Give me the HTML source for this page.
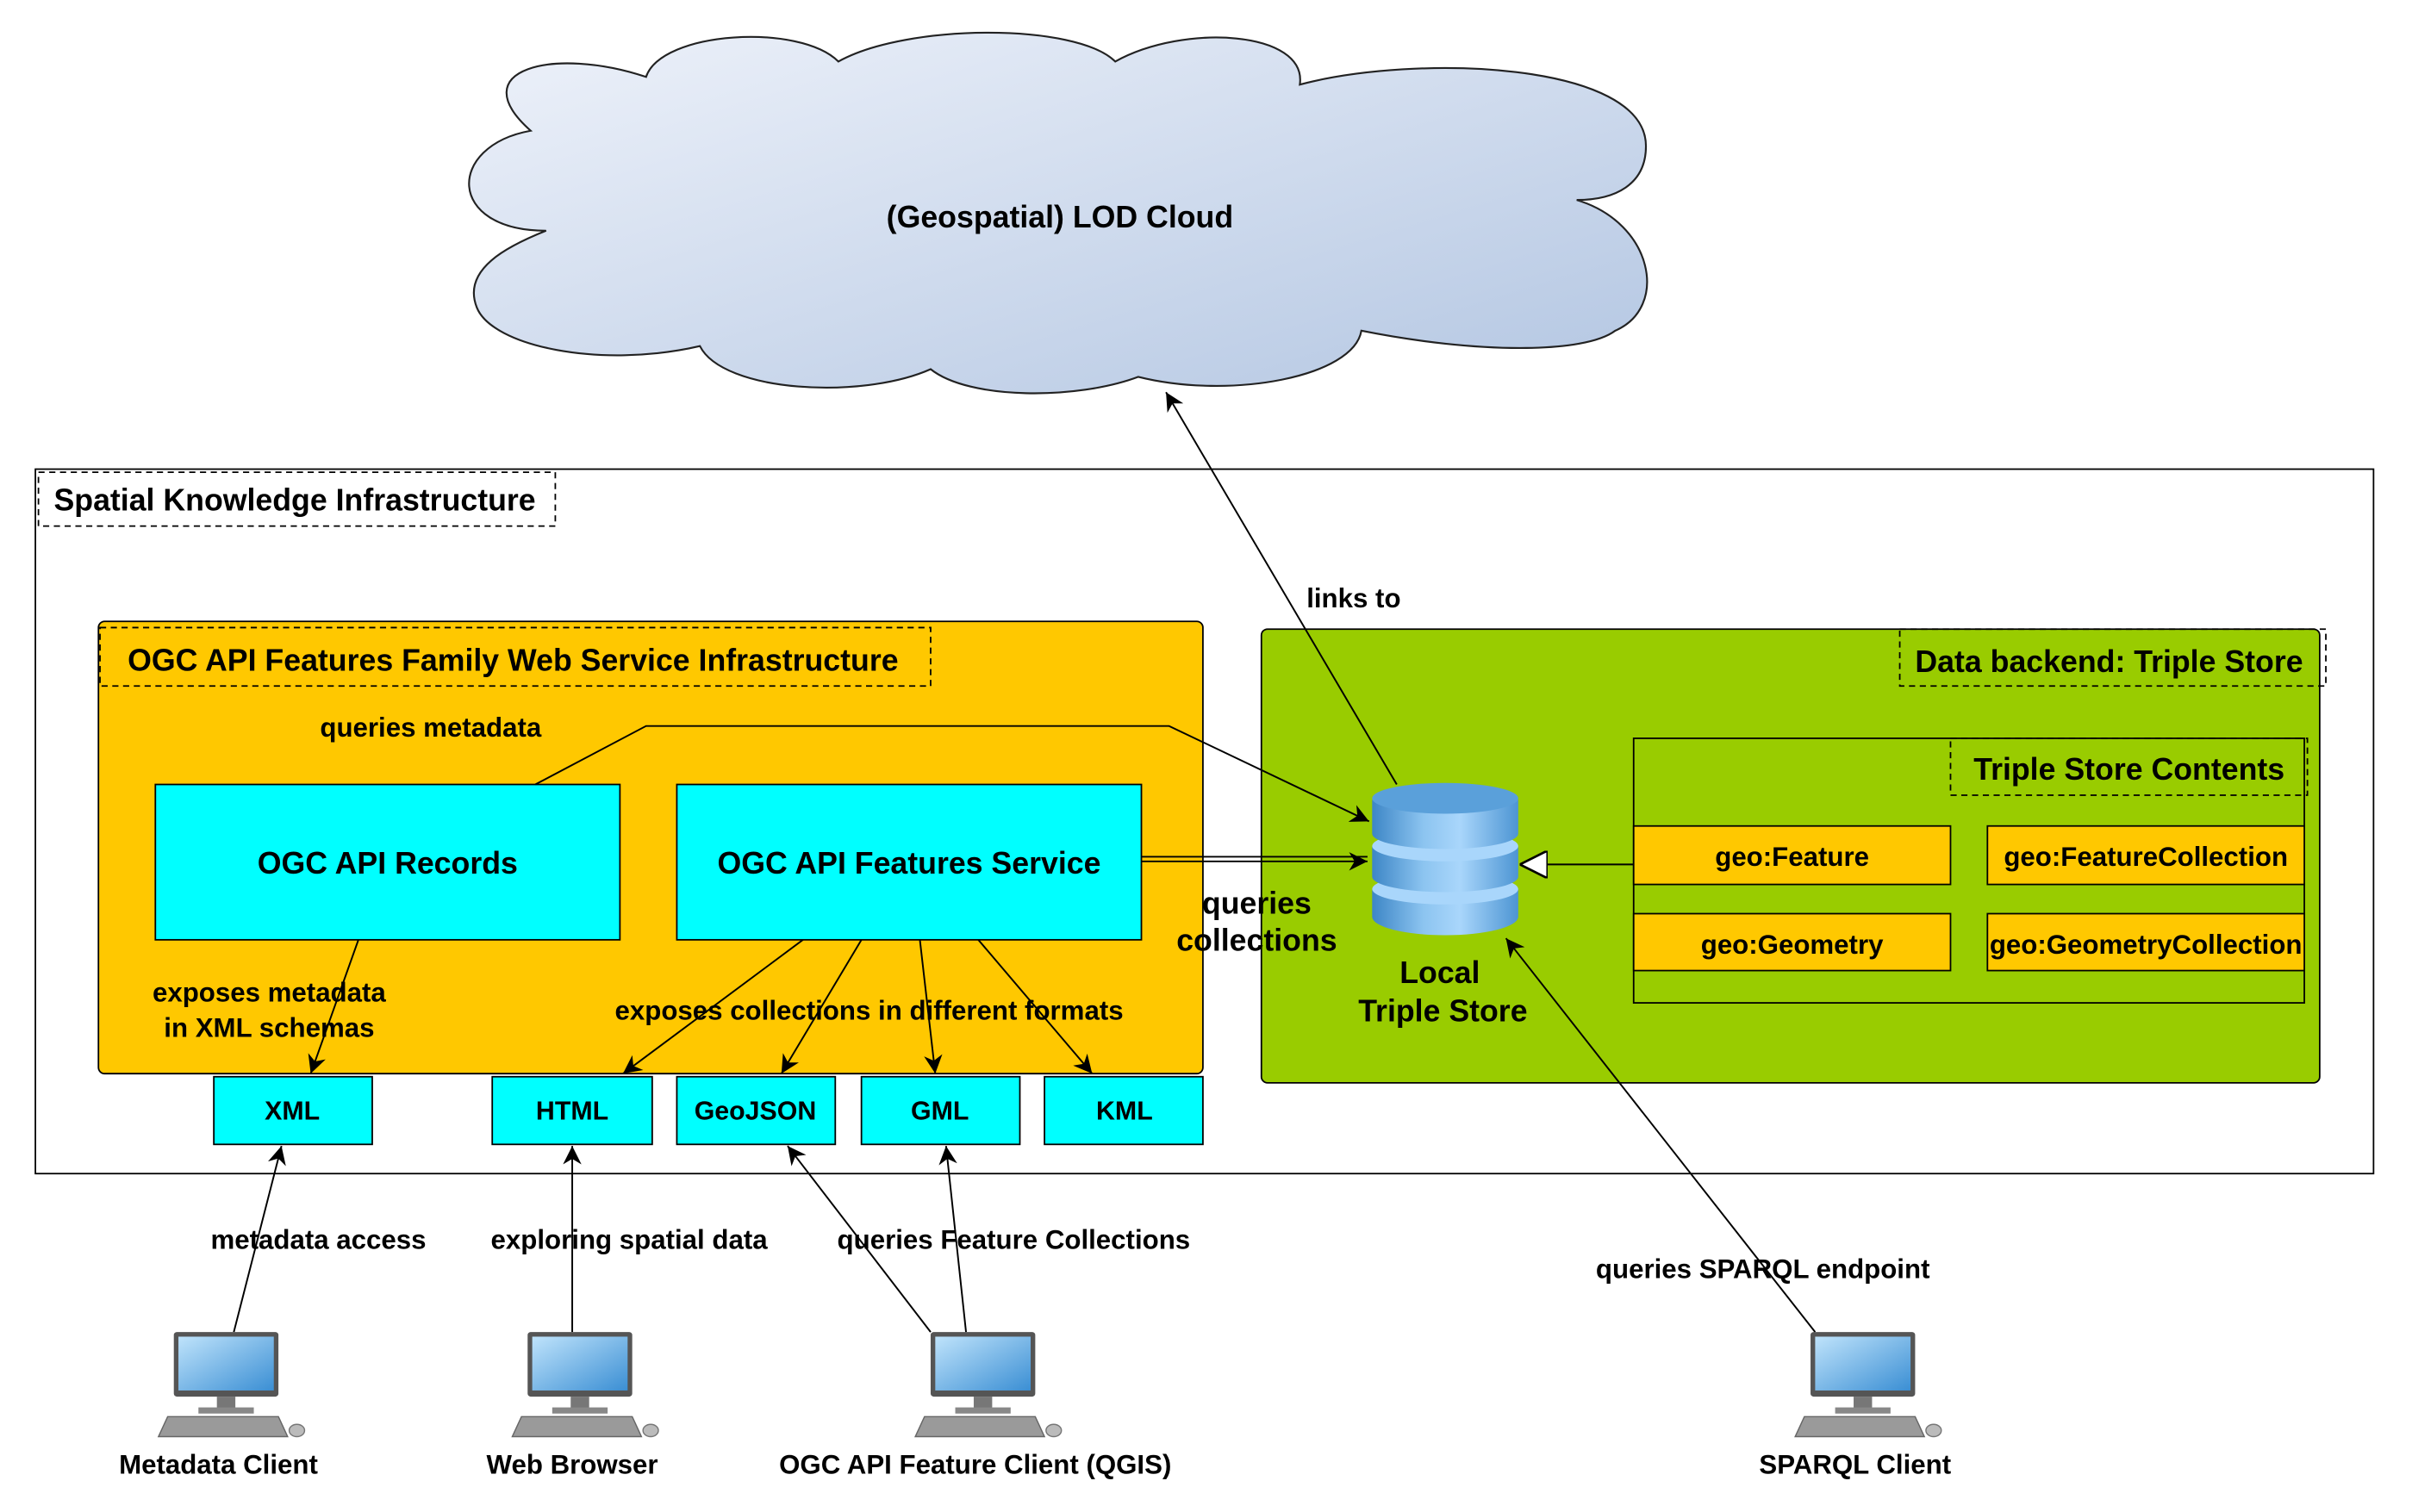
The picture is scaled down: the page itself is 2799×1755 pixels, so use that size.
<!DOCTYPE html>
<html><head><meta charset="utf-8"><style>
html,body{margin:0;padding:0;background:#fff}
svg{display:block}
text{font-family:"Liberation Sans",Arial,sans-serif;font-weight:bold;fill:#000}
</style></head><body>
<svg width="2799" height="1755" viewBox="0 0 1568 983" preserveAspectRatio="none" xmlns="http://www.w3.org/2000/svg">
<defs>
<linearGradient id="cl" x1="0" y1="0" x2="1" y2="1"><stop offset="0" stop-color="#eef2fa"/><stop offset="1" stop-color="#b3c6e2"/></linearGradient>
<linearGradient id="db" x1="0" y1="0" x2="1" y2="0"><stop offset="0" stop-color="#3d86c6"/><stop offset="0.35" stop-color="#8cc4f0"/><stop offset="0.6" stop-color="#a9d6fb"/><stop offset="1" stop-color="#4d95d3"/></linearGradient>
<linearGradient id="mon" x1="0" y1="0" x2="1" y2="1"><stop offset="0" stop-color="#bfe3fb"/><stop offset="1" stop-color="#3b8fd4"/></linearGradient>
<marker id="ar" viewBox="0 0 10 10" refX="10" refY="5" markerWidth="12" markerHeight="12" markerUnits="userSpaceOnUse" orient="auto"><path d="M0,0 L10,5 L0,10 L3,5 z" fill="#000"/></marker>
<marker id="hol" viewBox="0 0 12 12" refX="12" refY="6" markerWidth="18" markerHeight="18" markerUnits="userSpaceOnUse" orient="auto"><path d="M0,0 L12,6 L0,12 z" fill="#fff" stroke="#000" stroke-width="1"/></marker>
<g id="pc">
<rect x="-34" y="0" width="68" height="42" rx="2" fill="#555"/>
<rect x="-31" y="3" width="62" height="35" fill="url(#mon)"/>
<rect x="-6" y="42" width="12" height="8" fill="#777"/>
<rect x="-18" y="49" width="36" height="4" fill="#888"/>
<path d="M-38,55 L34,55 L40,68 L-44,68 z" fill="#9a9a9a" stroke="#666" stroke-width="0.8"/>
<ellipse cx="46" cy="64" rx="5" ry="4" fill="#bbb" stroke="#777" stroke-width="0.8"/>
</g>
</defs>

<path d="M355,150 C290,150 290,95 345,85 C300,45 360,30 420,50 C430,20 520,15 545,40 C590,15 700,15 725,40 C770,15 850,20 845,55 C920,35 1070,40 1070,95 C1070,120 1050,130 1025,130 C1075,145 1085,200 1050,215 C1030,230 960,230 885,215 C880,245 800,260 740,245 C700,260 630,260 605,240 C560,260 470,255 455,225 C390,240 320,225 310,200 C300,175 330,160 355,150 z" fill="url(#cl)" stroke="#222" stroke-width="1.2"/>
<text x="689" y="148" font-size="20" text-anchor="middle">(Geospatial) LOD Cloud</text>

<rect x="23" y="305" width="1520" height="458" fill="none" stroke="#000" stroke-width="1"/>
<rect x="25" y="307" width="336" height="35" fill="none" stroke="#000" stroke-dasharray="4,3"/>
<text x="35" y="332" font-size="20">Spatial Knowledge Infrastructure</text>

<rect x="64" y="404" width="718" height="294" rx="4" fill="#ffc800" stroke="#000"/>
<rect x="65" y="408" width="540" height="38" fill="none" stroke="#000" stroke-dasharray="4,3"/>
<text x="83" y="436" font-size="20">OGC API Features Family Web Service Infrastructure</text>
<rect x="101" y="510" width="302" height="101" fill="#00ffff" stroke="#000"/>
<text x="252" y="568" font-size="20" text-anchor="middle">OGC API Records</text>
<rect x="440" y="510" width="302" height="101" fill="#00ffff" stroke="#000"/>
<text x="591" y="568" font-size="20" text-anchor="middle">OGC API Features Service</text>

<g fill="#00ffff" stroke="#000">
<rect x="139" y="700" width="103" height="44"/><rect x="320" y="700" width="104" height="44"/><rect x="440" y="700" width="103" height="44"/><rect x="560" y="700" width="103" height="44"/><rect x="679" y="700" width="103" height="44"/>
</g>
<g font-size="17" text-anchor="middle">
<text x="190" y="728">XML</text><text x="372" y="728">HTML</text><text x="491" y="728">GeoJSON</text><text x="611" y="728">GML</text><text x="731" y="728">KML</text>
</g>

<rect x="820" y="409" width="688" height="295" rx="4" fill="#99cc00" stroke="#000"/>
<rect x="1235" y="409" width="277" height="37" fill="none" stroke="#000" stroke-dasharray="4,3"/>
<text x="1245" y="437" font-size="20">Data backend: Triple Store</text>
<rect x="1062" y="480" width="436" height="172" fill="none" stroke="#000"/>
<rect x="1268" y="480" width="232" height="37" fill="none" stroke="#000" stroke-dasharray="4,3"/>
<text x="1283" y="507" font-size="20">Triple Store Contents</text>
<g fill="#ffc800" stroke="#000">
<rect x="1062" y="537" width="206" height="38"/><rect x="1292" y="537" width="206" height="38"/><rect x="1062" y="594" width="206" height="37"/><rect x="1292" y="594" width="206" height="37"/>
</g>
<g font-size="17.5" text-anchor="middle">
<text x="1165" y="563">geo:Feature</text><text x="1395" y="563">geo:FeatureCollection</text><text x="1165" y="620">geo:Geometry</text><text x="1395" y="620">geo:GeometryCollection</text>
</g>

<g>
<path d="M892,578 L892,596 A47.5,12 0 0 0 987,596 L987,578 z" fill="url(#db)"/>
<ellipse cx="939.5" cy="578" rx="47.5" ry="10" fill="#a9d6fb"/>
<path d="M892,550 L892,570 A47.5,10 0 0 0 987,570 L987,550 z" fill="url(#db)"/>
<ellipse cx="939.5" cy="550" rx="47.5" ry="10" fill="#a9d6fb"/>
<path d="M892,520 L892,542 A47.5,10 0 0 0 987,542 L987,520 z" fill="url(#db)"/>
<ellipse cx="939.5" cy="519" rx="47.5" ry="10" fill="#5aa0da"/>
</g>
<text x="936" y="639" font-size="20" text-anchor="middle">Local</text>
<text x="938" y="664" font-size="20" text-anchor="middle">Triple Store</text>

<g stroke="#000" stroke-width="1.1" fill="none">
<line x1="1062" y1="562" x2="988" y2="562" marker-end="url(#hol)"/>
<line x1="742" y1="557" x2="889" y2="557"/>
<line x1="742" y1="560" x2="889" y2="560" marker-end="url(#ar)"/>
<polyline points="348,510 420,472 760,472 890,534" marker-end="url(#ar)"/>
<line x1="908" y1="510" x2="758" y2="255" marker-end="url(#ar)"/>
<line x1="233" y1="611" x2="202" y2="698" marker-end="url(#ar)"/>
<line x1="522" y1="611" x2="405" y2="698" marker-end="url(#ar)"/>
<line x1="560" y1="611" x2="508" y2="698" marker-end="url(#ar)"/>
<line x1="598" y1="611" x2="608" y2="698" marker-end="url(#ar)"/>
<line x1="636" y1="611" x2="710" y2="698" marker-end="url(#ar)"/>
<line x1="152" y1="866" x2="183" y2="745" marker-end="url(#ar)"/>
<line x1="372" y1="866" x2="372" y2="745" marker-end="url(#ar)"/>
<line x1="605" y1="866" x2="512" y2="745" marker-end="url(#ar)"/>
<line x1="628" y1="866" x2="615" y2="745" marker-end="url(#ar)"/>
<line x1="1180" y1="866" x2="979" y2="610" marker-end="url(#ar)"/>
</g>

<g font-size="17.5" text-anchor="middle">
<text x="280" y="479">queries metadata</text>
<text x="880" y="395">links to</text>
<text x="175" y="651">exposes metadata</text>
<text x="175" y="674">in XML schemas</text>
<text x="565" y="663">exposes collections in different formats</text>
<text x="207" y="812">metadata access</text>
<text x="409" y="812">exploring spatial data</text>
<text x="659" y="812">queries Feature Collections</text>
<text x="1146" y="831">queries SPARQL endpoint</text>
</g>
<text x="817" y="594" font-size="20" text-anchor="middle">queries</text>
<text x="817" y="618" font-size="20" text-anchor="middle">collections</text>

<use href="#pc" x="147" y="866"/>
<use href="#pc" x="377" y="866"/>
<use href="#pc" x="639" y="866"/>
<use href="#pc" x="1211" y="866"/>
<g font-size="17.5" text-anchor="middle">
<text x="142" y="958">Metadata Client</text>
<text x="372" y="958">Web Browser</text>
<text x="634" y="958">OGC API Feature Client (QGIS)</text>
<text x="1206" y="958">SPARQL Client</text>
</g>
</svg>
</body></html>
